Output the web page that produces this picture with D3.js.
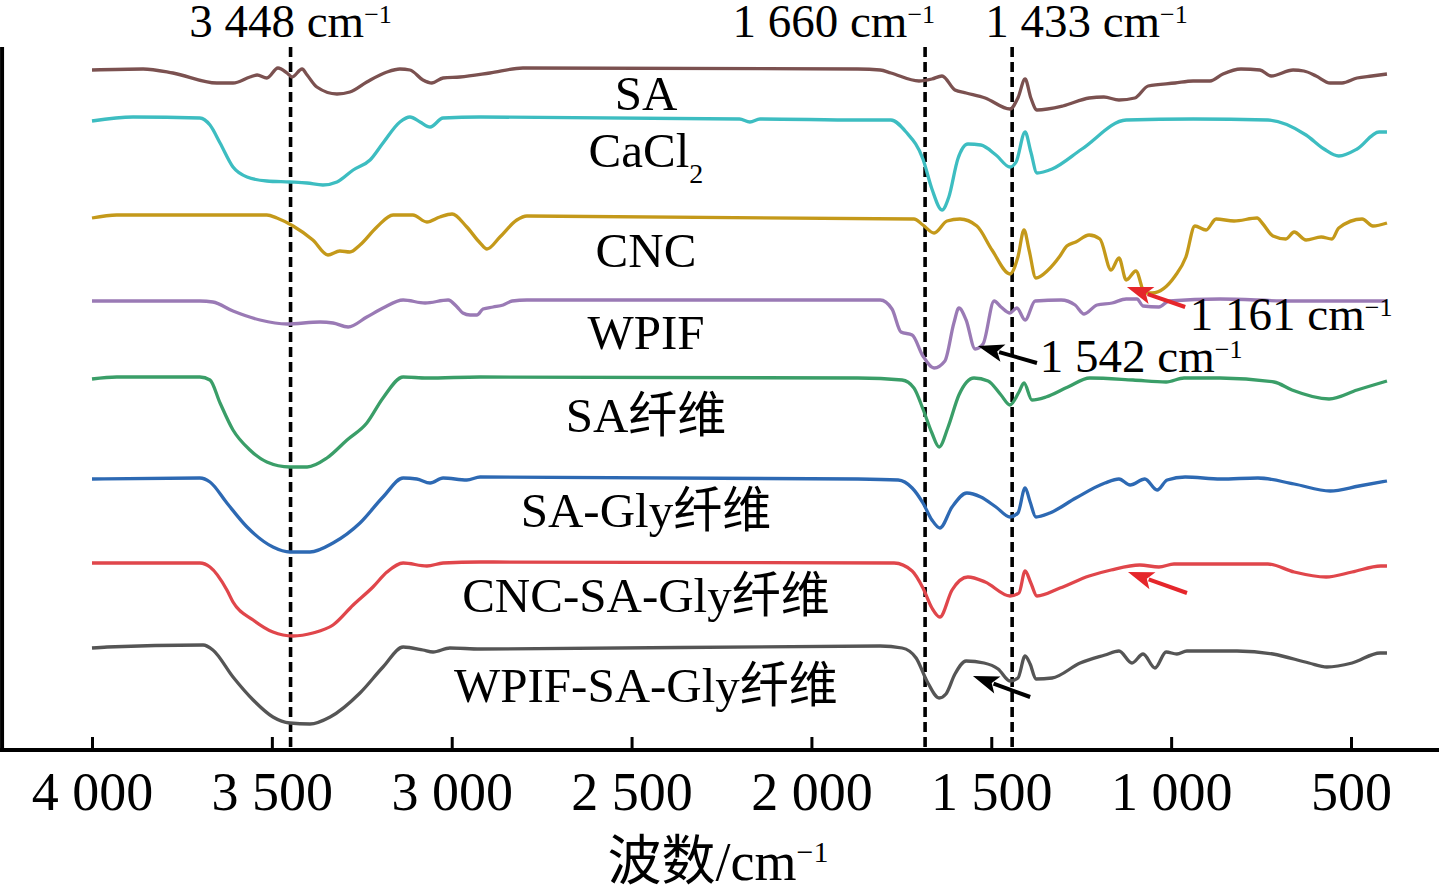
<!DOCTYPE html>
<html><head><meta charset="utf-8">
<script src="https://cdn.jsdelivr.net/npm/d3@7"></script>
<style>body{margin:0;background:#fff;overflow:hidden}</style>
</head><body>
<svg id="c" width="1439" height="893"></svg>
<script>
// ---- data (wavenumber cm^-1, transmittance a.u. with vertical offsets) ----
const seriesNames = ["SA","CaCl2","CNC","WPIF","SA纤维","SA-Gly纤维","CNC-SA-Gly纤维","WPIF-SA-Gly纤维"];
const seriesColors = ["#7b5150","#3dbdc1","#c4991a","#9a7ab5","#3a9e68","#2d69b3","#e0464b","#555555"];

const sa = [[4000,136],[3858,136.2],[3775,135.4],[3653,133.4],[3608,133.4],[3561,134.6],[3541,135],[3514,134.4],[3483,136.4],[3458,135.4],[3444,134.6],[3416,136.2],[3402,135],[3375,132.6],[3319,131.2],[3283,131.6],[3236,133.6],[3180,135.6],[3144,136.2],[3116,136],[3080,134],[3055,133.4],[3024,134.4],[2977,134.6],[2894,135.4],[2802,136.4],[1871,136.2],[1809,136],[1779,135.4],[1701,133.8],[1665,134.2],[1637,134.8],[1601,132],[1570,131.4],[1517,130.4],[1448,128.2],[1426,130.4],[1406,134.2],[1390,130.4],[1373,128],[1301,128.8],[1228,130.4],[1187,130.6],[1145,130],[1101,130.4],[1064,132.8],[989,133.4],[939,133.8],[892,133.8],[856,135.2],[806,136.2],[753,136],[722,134.8],[661,136],[631,135.8],[597,134.8],[558,133.4],[525,133.4],[483,134.4],[442,134.8],[400,135.2]];

const cacl2 = [[4000,125.8],[3886,126.6],[3700,126.4],[3672,125],[3644,121.4],[3608,116.6],[3569,114.6],[3514,113.8],[3450,113.6],[3402,113.4],[3358,113],[3319,113.6],[3274,116],[3227,118],[3191,121.4],[3144,125.6],[3116,126.6],[3088,125.6],[3060,124.6],[3024,126.4],[2921,126.6],[2200,126.2],[2171,125.6],[2143,126.2],[1871,126],[1779,126],[1737,123.6],[1690,118.2],[1665,112.2],[1637,108],[1618,110.6],[1593,118.2],[1565,121.2],[1529,121],[1487,119],[1448,116.6],[1431,117.6],[1406,123.6],[1390,119.6],[1373,115.4],[1331,116.2],[1248,120.2],[1125,126],[939,126.2],[731,126],[625,123],[575,120.2],[534,118.8],[483,120.2],[422,123.6],[400,123.6]];

const cnc = [[4000,106.4],[3931,107],[3514,107],[3486,106.4],[3441,104.8],[3386,102],[3344,99],[3311,99.8],[3283,99.6],[3255,101],[3208,104.6],[3163,107],[3108,107],[3069,105.6],[3033,106.6],[2999,107.2],[2958,104.6],[2921,101.4],[2902,100.2],[2866,102.6],[2819,106],[2791,106.8],[1715,106.2],[1690,105],[1659,103.4],[1623,105.8],[1587,106.2],[1540,104.8],[1498,100],[1448,95.2],[1426,98.6],[1409,104],[1395,100],[1376,94.4],[1342,96],[1309,98.8],[1290,100.8],[1265,101.6],[1228,103],[1198,102.2],[1167,96],[1145,98.4],[1125,94],[1098,95.8],[1073,91.4],[1053,91.4],[989,94.8],[959,98.6],[934,104.8],[903,104],[875,106.2],[825,105.8],[761,106.4],[747,105.4],[717,102.8],[681,102.2],[658,103.6],[625,102],[583,102.6],[553,102.2],[534,104.4],[469,106.2],[439,104.8],[400,105.4]];

const wpif = [[4000,89.8],[3700,89.8],[3664,89.6],[3608,87.8],[3533,86],[3458,85.2],[3366,85.6],[3330,85.4],[3288,84.6],[3236,86.6],[3191,88.4],[3135,90],[3074,89.4],[3010,90],[2985,88.6],[2969,87.4],[2949,87],[2930,87],[2913,88.2],[2885,88.6],[2857,89],[2832,89.8],[2791,90],[1809,90],[1776,88.2],[1751,83.6],[1720,83],[1690,78.8],[1659,76.4],[1629,77.8],[1604,85.4],[1590,88.4],[1570,86],[1545,80.2],[1523,81.2],[1492,89.8],[1473,88.6],[1448,87.4],[1429,88.4],[1406,86],[1378,89.8],[1306,90],[1267,89],[1242,87.2],[1206,89],[1164,89.4],[1125,90.2],[1095,90.2],[1078,88.8],[1034,88.6],[1006,89.8],[864,90.2],[664,89.8],[400,89.8]];

const saFiber = [[4000,74.2],[3931,74.6],[3700,74.6],[3672,74],[3644,69.4],[3608,64],[3561,60],[3514,57.6],[3450,56.6],[3402,56.6],[3347,58.4],[3291,62],[3236,65.4],[3191,70.4],[3135,74.6],[3069,74.4],[2921,74.6],[1871,74.4],[1748,74],[1715,72.4],[1690,68.2],[1665,63.4],[1645,60.6],[1620,64.6],[1590,71],[1548,74.4],[1509,73.8],[1473,71],[1448,69],[1423,71.6],[1409,73.4],[1387,70],[1348,70.6],[1287,72.6],[1226,74.4],[1106,74],[1014,73.6],[964,74.4],[864,74.4],[714,73.6],[664,72],[561,70.2],[483,72],[400,73.8]];

const saGlyFiber = [[4000,54.2],[3700,54.4],[3672,53.6],[3625,49.4],[3569,44.6],[3497,40.6],[3450,39.6],[3394,39.6],[3330,41.4],[3255,45.4],[3191,50.6],[3135,54.4],[3097,54.2],[3060,53.4],[3024,54.4],[2958,54],[2921,54.6],[1871,54.2],[1759,54],[1720,52.4],[1690,49.4],[1665,46],[1643,44.4],[1609,48.6],[1568,51.4],[1529,50.6],[1487,48.6],[1448,46.6],[1426,47.4],[1406,52.4],[1392,49.6],[1376,46.6],[1337,47.4],[1265,50.4],[1184,53.4],[1145,54.2],[1114,53],[1073,54.2],[1039,52],[1011,54],[961,54.6],[862,54.2],[759,54.4],[658,53.2],[558,51.8],[478,52.8],[400,53.8]];

const cncSaGlyFiber = [[4000,37.4],[3700,37.4],[3672,36.6],[3625,32],[3608,29.6],[3552,26],[3497,23.6],[3441,22.8],[3386,23.4],[3330,25],[3274,29],[3219,32.6],[3180,35.6],[3135,37.4],[3069,36.8],[3024,37.4],[2921,37.6],[1770,37.4],[1720,35.8],[1690,32.4],[1665,28.4],[1643,26.6],[1609,32],[1565,34.6],[1517,33.6],[1448,30.8],[1423,31.4],[1406,35.8],[1390,33.4],[1373,30.8],[1309,32.4],[1228,34.8],[1167,36],[1087,37],[1034,36.6],[992,37.2],[731,37.2],[658,35.6],[569,34.6],[497,35.6],[417,36.8],[400,36.8]];

const wpifSaGlyFiber = [[4000,20.4],[3958,20.6],[3691,21],[3664,20],[3608,14.6],[3552,10],[3497,6.6],[3450,5.4],[3394,5.2],[3338,6.6],[3255,11.4],[3191,16.6],[3135,20.6],[3080,20],[3052,19.6],[3005,20.4],[2921,20.2],[1809,20.8],[1748,20.4],[1709,18.4],[1679,13.8],[1645,10.4],[1626,11.2],[1601,15.2],[1570,17.8],[1520,17.4],[1481,16.2],[1448,13.8],[1426,14.4],[1406,18.8],[1392,17.2],[1376,14.2],[1331,14.4],[1253,17.4],[1184,19],[1145,19.8],[1109,17.4],[1078,19.2],[1045,16.4],[1014,19.6],[984,19.2],[956,19.8],[817,19.8],[717,19.2],[617,17.4],[567,16.6],[497,17.4],[419,19.4],[400,19.4]];

const seriesData = [sa, cacl2, cnc, wpif, saFiber, saGlyFiber, cncSaGlyFiber, wpifSaGlyFiber];
const labelAnchors = [[2460,128],[2460,116.6],[2460,96.6],[2460,80.2],[2460,63.6],[2460,44.6],[2460,27.6],[2460,9.6]];

const xTicks = [4000,3500,3000,2500,2000,1500,1000,500];
const xTickLabels = ["4 000","3 500","3 000","2 500","2 000","1 500","1 000","500"];

const markerPositions = [3448, 1684, 1442];
const markerLabels = ["3 448 cm", "1 660 cm", "1 433 cm"];

const arrowTips  = [[1537,80.8],[1551,14.8],[1123,92.6],[1120,35.6]];
const arrowTails = [[1373,77.4],[1392,10.6],[961,88.6],[956,31.4]];
const arrowColors = ["#000000","#000000","#e5262b","#e5262b"];
const noteLabels = ["1 542 cm","1 161 cm"];
const noteAnchors = [[1365,75.6],[948,84]];

// ---- drawing ----
const svg = d3.select("#c");
const FONT = "'Liberation Serif','Times New Roman','Noto Sans CJK SC',serif";
const x = d3.scaleLinear().domain([4000,500]).range([92,1351]);
const y = d3.scaleLinear().domain([0,140]).range([750,50]);

// frame
svg.append("line").attr("x1",x(4250)).attr("x2",x(4250)).attr("y1",y(0)+2).attr("y2",y(140.6))
  .attr("stroke","#000").attr("stroke-width",4);
svg.append("line").attr("x1",x(4250)-2).attr("x2",x(240)).attr("y1",y(0)).attr("y2",y(0))
  .attr("stroke","#000").attr("stroke-width",4);

const ax = d3.axisBottom(x).tickValues(xTicks).tickFormat((d,i)=>xTickLabels[i])
  .tickSizeInner(-13).tickSizeOuter(0).tickPadding(22);
const g = svg.append("g").attr("transform",`translate(0,${y(0)})`).call(ax);
g.select(".domain").remove();
g.selectAll(".tick line").attr("stroke","#000").attr("stroke-width",3);
g.selectAll(".tick text").attr("font-family",FONT).attr("font-size",54).attr("fill","#000");

// dashed marker lines
svg.selectAll(".mk").data(markerPositions).enter().append("line")
  .attr("x1",d=>x(d)).attr("x2",d=>x(d)).attr("y1",y(140.6)).attr("y2",y(0))
  .attr("stroke","#000").attr("stroke-width",3.6).attr("stroke-dasharray","10,5");

// curves
const line = d3.line().x(d=>x(d[0])).y(d=>y(d[1])).curve(d3.curveMonotoneX);
svg.selectAll(".curve").data(seriesData).enter().append("path")
  .attr("d",line).attr("fill","none")
  .attr("stroke",(d,i)=>seriesColors[i]).attr("stroke-width",3.3)
  .attr("stroke-linejoin","round");

// curve labels
seriesNames.forEach((n,i)=>{
  const t = svg.append("text").attr("x",x(labelAnchors[i][0])).attr("y",y(labelAnchors[i][1]))
    .attr("text-anchor","middle").attr("font-family",FONT).attr("font-size",49).attr("fill","#000");
  if (n === "CaCl2") {
    t.append("tspan").text("CaCl");
    t.append("tspan").text("2").attr("font-size",28).attr("dy",16);
  } else t.text(n);
});

function supLabel(sel, main, supSize, supDy){
  sel.append("tspan").text(main);
  sel.append("tspan").text("\u22121").attr("font-size",supSize).attr("dy",supDy);
}

// top marker labels
const anchors = ["middle","end","start"];
const offs = [0, 10, -27];
markerPositions.forEach((m,i)=>{
  const t = svg.append("text").attr("x",x(m)+offs[i]).attr("y",37)
    .attr("text-anchor",anchors[i]).attr("font-family",FONT).attr("font-size",47).attr("fill","#000");
  supLabel(t, markerLabels[i], 26, -14);
});

// arrows
arrowTips.forEach((tp,i)=>{
  const tx = x(tp[0]), ty = y(tp[1]);
  const sx = x(arrowTails[i][0]), sy = y(arrowTails[i][1]);
  const dx = tx - sx, dy = ty - sy, L = Math.hypot(dx,dy);
  const ux = dx/L, uy = dy/L, px = -uy, py = ux;
  const hl = 26, hw = 9;
  const bx = tx - ux*hl, by = ty - uy*hl;
  svg.append("line").attr("x1",sx).attr("y1",sy).attr("x2",bx+ux*4).attr("y2",by+uy*4)
    .attr("stroke",arrowColors[i]).attr("stroke-width",4);
  svg.append("path").attr("d",`M${tx},${ty}L${bx+px*hw},${by+py*hw}L${bx+ux*6},${by+uy*6}L${bx-px*hw},${by-py*hw}Z`)
    .attr("fill",arrowColors[i]);
});

// note labels
noteLabels.forEach((n,i)=>{
  const t = svg.append("text").attr("x",x(noteAnchors[i][0])).attr("y",y(noteAnchors[i][1]))
    .attr("font-family",FONT).attr("font-size",47).attr("fill","#000");
  supLabel(t, n, 26, -14);
});

// axis title
const tt = svg.append("text").attr("x",718).attr("y",880).attr("text-anchor","middle")
  .attr("font-family",FONT).attr("font-size",54).attr("fill","#000");
supLabel(tt, "波数/cm", 30, -18);
</script>
</body></html>
